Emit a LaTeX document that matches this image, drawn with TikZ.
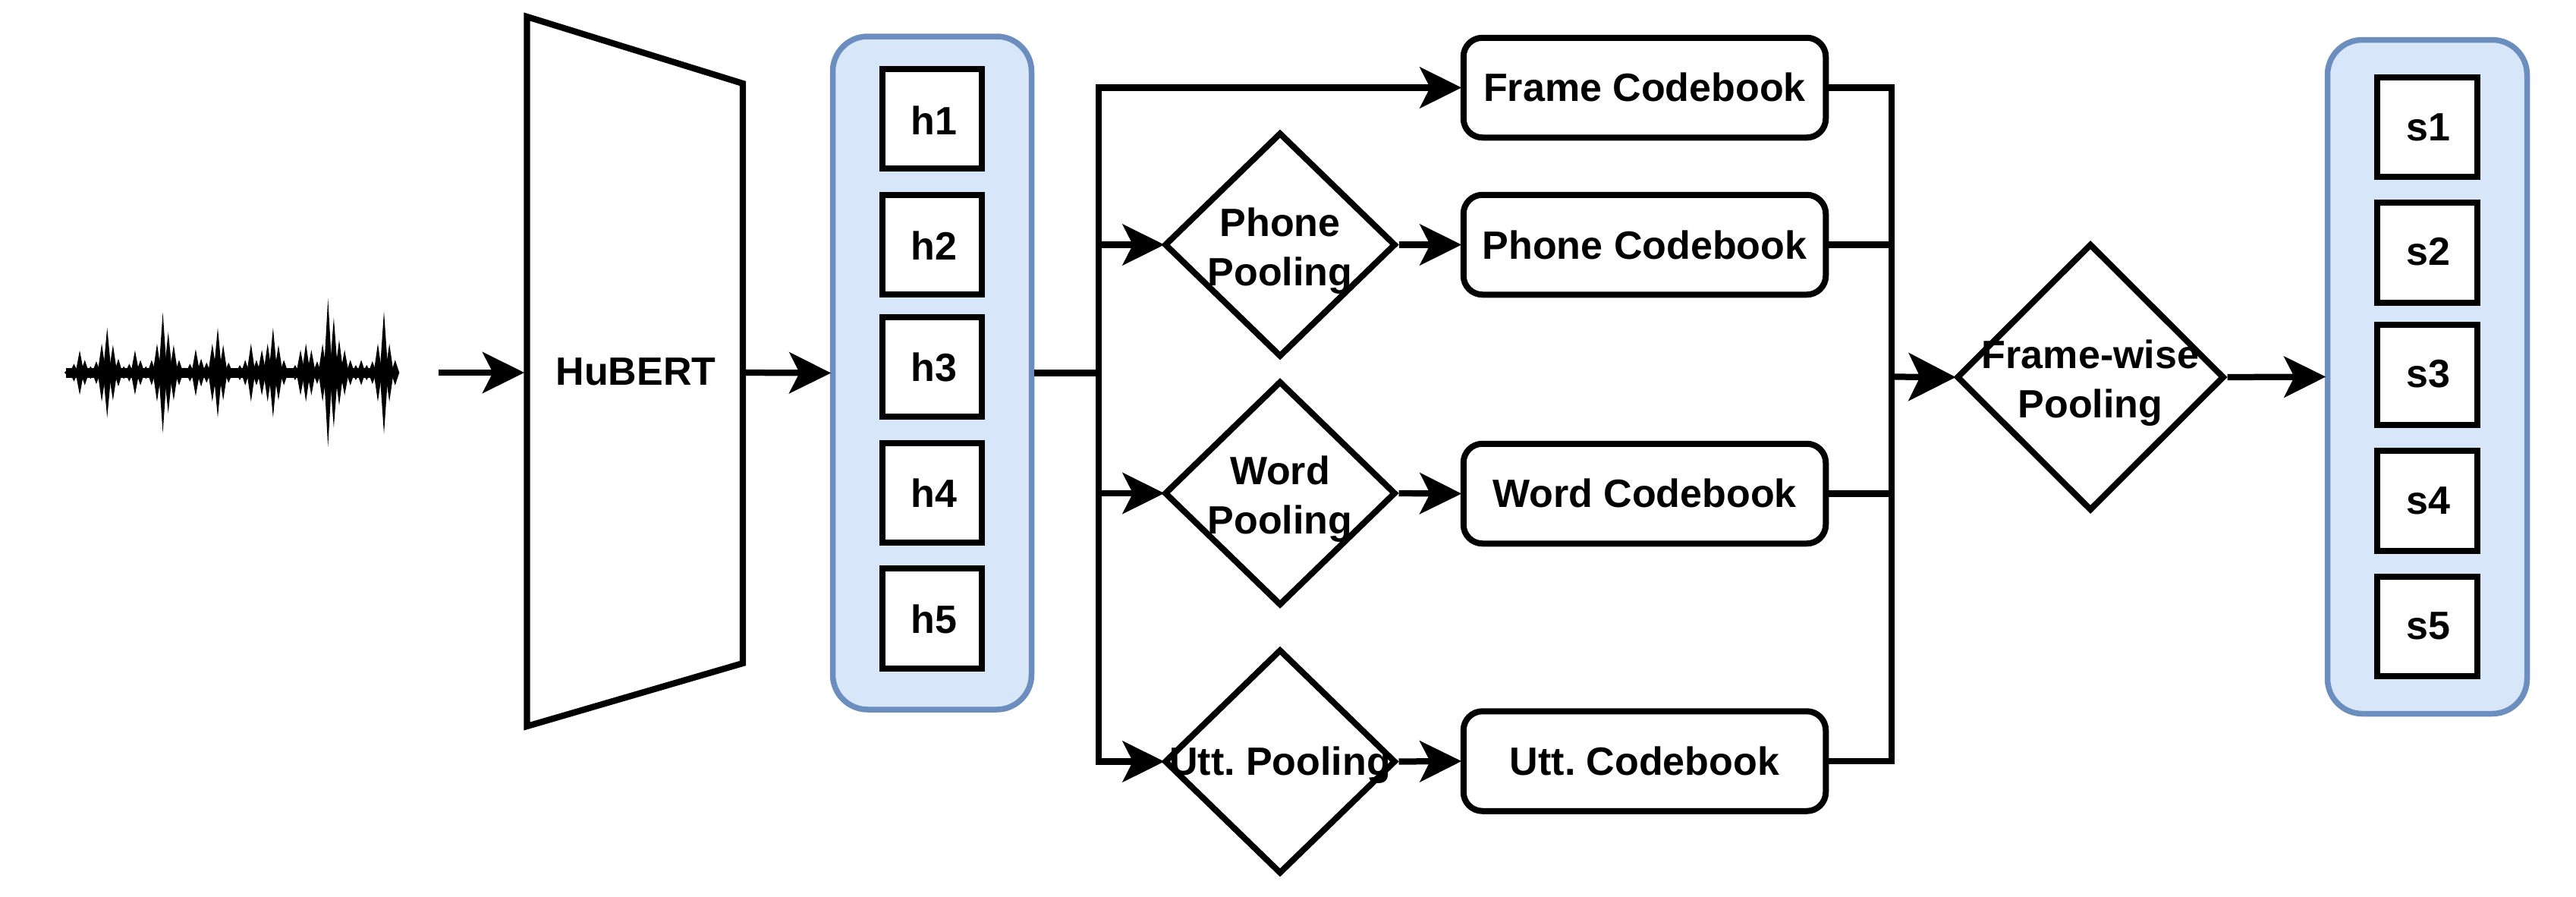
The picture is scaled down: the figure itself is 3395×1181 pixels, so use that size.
\documentclass[tikz,border=0pt]{standalone}
\usepackage{fontspec}
\setmainfont{Liberation Sans}
\usetikzlibrary{arrows.meta,shapes.geometric,calc}
\newdimen\PX \PX=0.02cm
\definecolor{groupfill}{HTML}{D8E6FA}
\definecolor{groupline}{HTML}{6C8EBF}
\tikzset{
  lbl/.style={font=\frenchspacing\fontsize{1.04cm}{1.3cm}\selectfont\bfseries,inner sep=0pt,outer sep=0pt,align=center},
  conn/.style={line width=0.165cm,line join=miter},
  arr/.style={conn,-{Stealth[length=1.1cm,width=1.08cm,inset=.27cm]}},
  toPool/.style={arr,shorten >=-0.08cm},
  toBox/.style={arr,shorten >=-0.03cm},
  bigarr/.style={conn,shorten >=-0.06cm,-{Stealth[length=1.24cm,width=1.26cm,inset=.3cm]}},
  group/.style={draw=groupline,fill=groupfill,line width=0.15cm,rounded corners=0.92cm,minimum width=262\PX,minimum height=887\PX},
  cell/.style={draw=black,fill=white,line width=0.16cm,minimum width=131.5\PX,minimum height=131.5\PX},
  codebook/.style={draw=black,fill=white,line width=0.16cm,rounded corners=0.5cm,minimum width=477.5\PX,minimum height=131.5\PX},
  pool/.style={draw=black,fill=white,diamond,line width=0.16cm,inner sep=0pt,minimum width=305\PX,minimum height=296\PX},
}
\begin{document}
\begin{tikzpicture}[x=0.02cm,y=-0.02cm]
\useasboundingbox (0,0) rectangle (3395,1181);
% waveform
\fill[black] (87,484.5) rectangle (524,497.5);
\foreach \xx/\aa in {202/15,218/35,235/88,250/50,267/25,284/45,300/115,316/178,333/110,349/55,365/25,381/35,398/88,414/50,430/25,447/50,463/115,480/238,496/160,512/110,528/50,544/20,560/35,577/93,593/55,609/40,626/115,642/178,658/110,674/40,690/15,707/30,723/50,740/115,756/50,772/90,789/115,805/178,821/110,837/50,853/15,870/30,886/90,902/115,918/90,935/45,951/115,967/293,984/218,1000/130,1016/90,1033/50,1049/30,1065/50,1081/30,1098/45,1114/115,1132/243,1148/115,1165/50}{
  \fill[black] ({\xx/2.237-5.5},491) -- ({\xx/2.237},{491-\aa/3}) -- ({\xx/2.237+5.5},491) -- ({\xx/2.237},{491+\aa/3}) -- cycle;
}
\coordinate (wave) at (578,491);
% HuBERT
\draw[conn] (694.5,22) -- (979,110) -- (979,874) -- (694.5,957) -- cycle;
\coordinate (hubL) at (691,491);
\coordinate (hubR) at (982,491);
\node[lbl,anchor=base] (hubert) at (838,507) {HuBERT};
% groups
\node[group] (hgrp) at (1228.5,491.5) {};
\foreach \nn/\yy/\bb in {1/156.5/177,2/322.5/342,3/483.5/502.5,4/649.5/668,5/815/834}{
  \node[cell] (hbox\nn) at (1228.5,\yy) {};
  \node[lbl,anchor=base] (htxt\nn) at (1231,\bb) {h\nn};
}
\node[group,minimum width=263\PX,minimum height=888\PX] (sgrp) at (3199,496.5) {};
\foreach \nn/\yy/\bb in {1/167.5/185,2/333/349.5,3/494/510,4/660/677,5/825.5/842}{
  \node[cell] (sbox\nn) at (3199,\yy) {};
  \node[lbl,anchor=base] (stxt\nn) at (3200,\bb) {s\nn};
}
% codebooks
\node[codebook] (cbF) at (2167.5,115.5) {};
\node[codebook] (cbP) at (2167.5,322.5) {};
\node[codebook] (cbW) at (2167.5,650.5) {};
\node[codebook] (cbU) at (2167.5,1003) {};
\node[lbl,anchor=base] (cbFt) at (2167.5,133) {Frame Codebook};
\node[lbl,anchor=base] (cbPt) at (2167.5,341) {Phone Codebook};
\node[lbl,anchor=base] (cbWt) at (2167.5,668.5) {Word Codebook};
\node[lbl,anchor=base] (cbUt) at (2167.5,1021) {Utt. Codebook};
% pooling diamonds
\node[pool] (pP) at (1687,322.5) {};
\node[pool] (pW) at (1687,650) {};
\node[pool] (pU) at (1687,1003.5) {};
\node[pool,minimum width=353\PX,minimum height=352\PX] (pF) at (2755,497) {};
% buses
\coordinate (jh) at (1448,491.5);
\coordinate (jr) at (2493,496.5);
% connectors
\draw[arr] (wave) -- (hubL);
\draw[toBox] (hubR) -- (hgrp.west);
\draw[conn] (hgrp.east) -- (jh);
\draw[toBox] (jh) |- (cbF.west);
\draw[toPool] (jh) |- (pP.west);
\draw[toPool] (jh) |- (pW.west);
\draw[toPool] (jh) |- (pU.west);
\draw[toBox] (pP.east) -- (cbP.west);
\draw[toBox] (pW.east) -- (cbW.west);
\draw[toBox] (pU.east) -- (cbU.west);
\draw[conn] (cbF.east) -| (jr);
\draw[conn] (cbP.east) -| (jr);
\draw[conn] (cbW.east) -| (jr);
\draw[conn] (cbU.east) -| (jr);
\draw[bigarr] (jr) -- (pF.west);
\draw[toBox] (pF.east) -- (sgrp.west);
% pooling labels
\node[lbl] (pPt) at (1687,331) {Phone\\Pooling};
\node[lbl] (pWt) at (1687,657.5) {Word\\Pooling};
\node[lbl,anchor=base] (pUt) at (1687,1021) {Utt. Pooling};
\node[lbl] (pFt) at (2755,504.5) {Frame-wise\\Pooling};
\end{tikzpicture}
\end{document}
